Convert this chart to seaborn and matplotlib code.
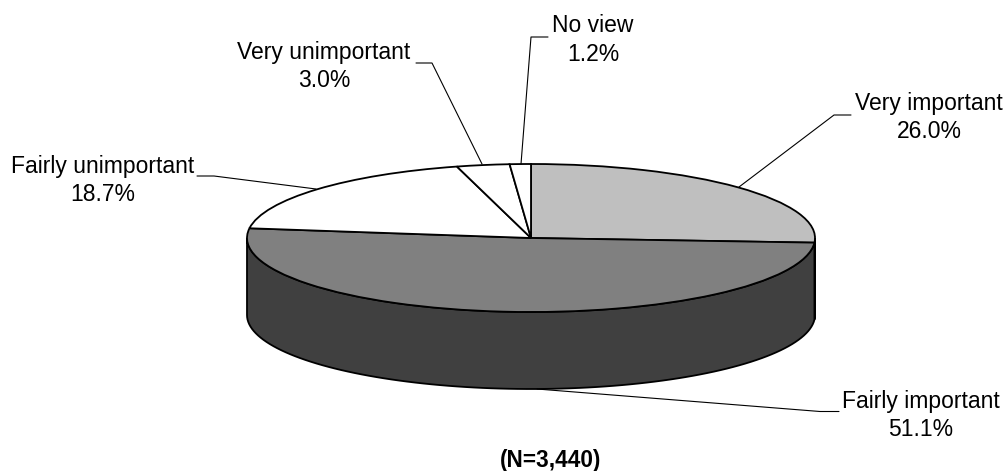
import numpy as np
import matplotlib
matplotlib.use("Agg")
import matplotlib.pyplot as plt
import seaborn as sns

categorias = ['Very important', 'Fairly important', 'Fairly unimportant', 'Very unimportant', 'No view']
valores = [26.0, 51.1, 18.7, 3.0, 1.2]
colores = ['#bfbfbf', '#808080', '#ffffff', '#ffffff', '#ffffff']
colores_lado = ['#5f5f5f', '#404040', '#808080', '#808080', '#808080']
nota = '(N=3,440)'

# geometria en pixeles de la imagen
cx, cy = 531, 238
rx, ry = 284, 74
prof = 77

# centro del texto y lineas guia (pixeles)
pos_texto = [(929, 117.5), (921, 415.5), (103, 180.5), (324, 66.5), (593, 40)]
guias = [[(851, 115), (834, 115), (739, 187)],
         [(839, 411.5), (820, 411.5), (537, 389)],
         [(197, 176), (214, 176), (316, 189)],
         [(416, 63), (432, 63), (482, 164)],
         [(548, 37), (531, 37), (521, 164)]]


def px(x, y):
    return (x - cx) / rx, (cy - y) / ry


sns.set_theme(style='white')
plt.rcParams['font.family'] = ['Liberation Sans', 'DejaVu Sans']

fig = plt.figure(figsize=(10.07, 4.71), dpi=100)
ax = fig.add_axes([0, 0, 1, 1])

# lado del cilindro, solo la mitad de adelante
acum = np.cumsum([0] + valores) * 3.6
for i in range(len(valores)):
    ini = max(acum[i], 90)
    fin = min(acum[i + 1], 270)
    if fin <= ini:
        continue
    t = np.radians(np.linspace(ini, fin, 100))
    x = np.sin(t)
    y = np.cos(t)
    d = prof / ry
    ax.fill(np.r_[x, x[::-1]], np.r_[y, y[::-1] - d], color=colores_lado[i], ec='black', lw=1.3, zorder=1)

wedges, _ = ax.pie(valores, colors=colores, startangle=90, counterclock=False,
                   wedgeprops={'edgecolor': 'black', 'linewidth': 1.3})
for w in wedges:
    w.set_zorder(2)

for nombre, v, p, g in zip(categorias, valores, pos_texto, guias):
    ax.text(*px(*p), f'{nombre}\n{v:.1f}%', ha='center', va='center', fontsize=16.5, color='black', linespacing=1.3)
    gx, gy = zip(*[px(*q) for q in g])
    ax.plot(gx, gy, color='black', lw=0.8, zorder=3)

ax.text(*px(551, 461), nota, ha='center', va='center', fontsize=16.3, fontweight='bold', color='black')

ax.set_aspect('auto')
ax.set_xlim(px(0, 0)[0], px(1007, 0)[0])
ax.set_ylim(px(0, 471)[1], px(0, 0)[1])
ax.axis('off')

fig.savefig('out.png', dpi=100)
